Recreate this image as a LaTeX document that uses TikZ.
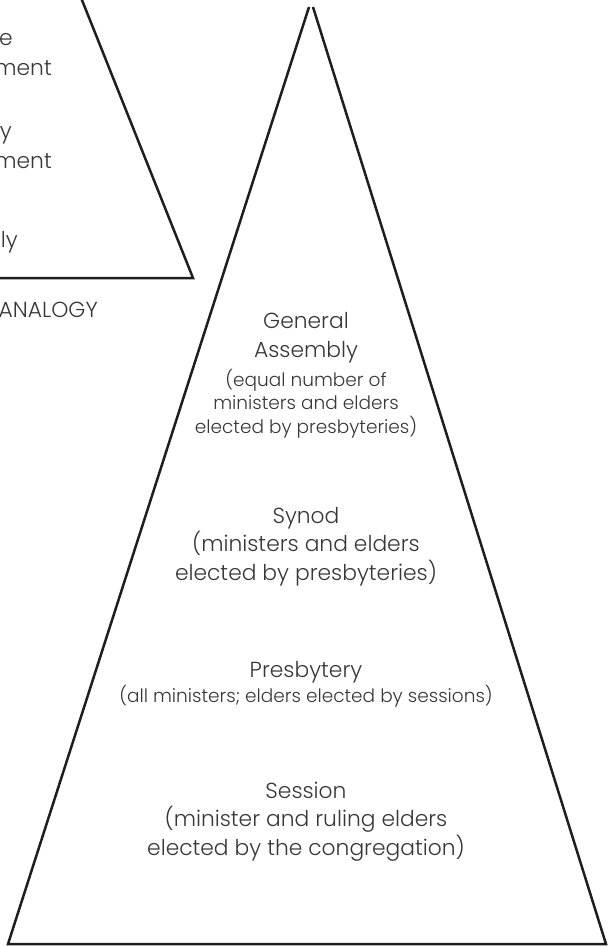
\documentclass[tikz,border=0pt]{standalone}
\usepackage{fontspec}
\setmainfont{Poppins Light}
\usetikzlibrary{positioning}
\definecolor{inkgray}{RGB}{30,30,30}
\definecolor{textgray}{RGB}{55,55,55}
\begin{document}
\begin{tikzpicture}[x=1pt, y=-1pt,
    edge/.style={draw=inkgray, line width=2.5pt},
    bigtext/.style={text=textgray, align=center, inner sep=0pt, font=\fontsize{21.8}{28.5}\selectfont},
    smalltext/.style={text=textgray, align=center, inner sep=0pt, font=\fontsize{18.5}{23.5}\selectfont},
    cuttext/.style={text=textgray, inner sep=0pt, anchor=base east, font=\fontsize{21.8}{28.5}\selectfont}
]
\useasboundingbox (0,0) rectangle (610,946);

% ANALOGY triangle (cut at the left and top)
\draw[edge] (80,-5) -- (193,278) -- (-5,278);
\node[cuttext] (an_one) at (13,45) {e};
\node[cuttext] (an_two) at (52,75) {ment};
\node[cuttext] (an_three) at (12,138) {y};
\node[cuttext] (an_four) at (52,168) {ment};
\node[cuttext] (an_five) at (18,247) {ly};
\node[cuttext] (an_label) at (98,317) {ANALOGY};

% church courts triangle
\draw[edge, line join=miter] (309,7) -- (8,944) -- (606,944) -- (313,7);

% General Assembly (base = last line)
\node[bigtext, anchor=base] (ga) at (306,357) {General\\Assembly};
\node[smalltext, anchor=base] (ga_note) at (306,433) {(equal number of\\ministers and elders\\elected by presbyteries)};

% Synod
\node[bigtext, anchor=base] (synod) at (306,580) {Synod\\(ministers and elders\\elected by presbyteries)};

% Presbytery
\node[bigtext, anchor=base] (presb) at (306,677) {Presbytery};
\node[smalltext, anchor=base] (presb_note) at (306,702) {(all ministers; elders elected by sessions)};

% Session
\node[bigtext, anchor=base] (session) at (306,855) {Session\\(minister and ruling elders\\elected by the congregation)};

\end{tikzpicture}
\end{document}
